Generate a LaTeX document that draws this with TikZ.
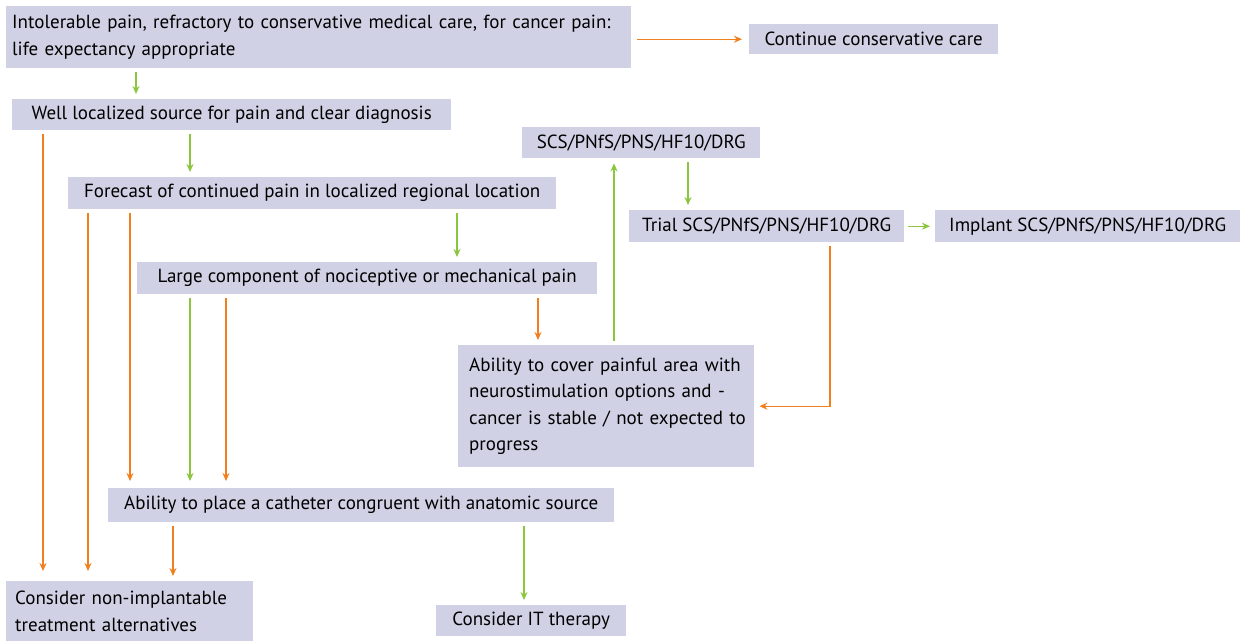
\documentclass[tikz,border=0pt]{standalone}
\usepackage{fontspec}
\setmainfont{PT Sans}
\usepackage{xcolor}
\usetikzlibrary{arrows.meta,positioning,calc}
\definecolor{boxfill}{HTML}{D0D1E4}
\definecolor{arrorange}{HTML}{F07F1E}
\definecolor{arrgreen}{HTML}{8CC63E}

\begin{document}
\begin{tikzpicture}[x=1pt, y=-1pt,
    box/.style={rectangle, fill=boxfill, anchor=north west, inner sep=0pt, font=\fontsize{19}{26.5}\selectfont},
    garr/.style={draw=arrgreen, line width=1.4pt, -{Stealth[length=8pt,width=7pt]}, shorten <=4pt, shorten >=5pt},
    oarr/.style={draw=arrorange, line width=1.4pt, -{Stealth[length=8pt,width=7pt]}, shorten <=4pt, shorten >=5pt}]
    \useasboundingbox (0,0) rectangle (1243,641);
    \node[box, minimum height=62pt, text width=613pt, inner xsep=6pt, align=left] (intro) at (6,6) {Intolerable pain, refractory to conservative medical care, for cancer pain:\\life expectancy appropriate};
    \node[box, minimum width=249pt, minimum height=30pt] (cont) at (749,24) {Continue conservative care};
    \node[box, minimum width=439pt, minimum height=31pt] (well) at (12,99) {Well localized source for pain and clear diagnosis};
    \node[box, minimum width=238pt, minimum height=31pt] (scs) at (522,127) {SCS/PNfS/PNS/HF10/DRG};
    \node[box, minimum width=488pt, minimum height=32pt] (forecast) at (68,177) {Forecast of continued pain in localized regional location};
    \node[box, minimum width=275pt, minimum height=32pt] (trial) at (629,210) {Trial SCS/PNfS/PNS/HF10/DRG};
    \node[box, minimum width=305pt, minimum height=32pt] (implant) at (935,210) {Implant SCS/PNfS/PNS/HF10/DRG};
    \node[box, minimum width=460pt, minimum height=32pt] (large) at (137,262) {Large component of nociceptive or mechanical pain};
    \node[box, minimum height=122pt, text width=280pt, inner xsep=8pt, align=left] (cover) at (458,345) {\hspace*{3pt}Ability to cover painful area with\\\hspace*{3pt}neurostimulation options and -\\\hspace*{3pt}cancer is stable / not expected to\\\hspace*{3pt}progress};
    \node[box, minimum width=506pt, minimum height=34pt] (catheter) at (108,488) {Ability to place a catheter congruent with anatomic source};
    \node[box, minimum height=60pt, text width=229pt, inner xsep=9pt, align=left] (nonimp) at (6,581) {Consider non-implantable\\treatment alternatives};
    \node[box, minimum width=190pt, minimum height=31pt] (itther) at (436,605) {Consider IT therapy};

    \draw[oarr, shorten <=6pt, shorten >=7pt] (intro.east |- cont.west) -- (cont.west);
    \draw[garr] ([xshift=130pt]intro.south west) -- ([xshift=124pt]well.north west);
    \draw[garr] ([xshift=178pt]well.south west) -- ([xshift=122pt]forecast.north west);
    \draw[oarr, shorten >=10pt] ([xshift=31pt]well.south west) -- ([xshift=37pt]nonimp.north west);
    \draw[oarr, shorten >=10pt] ([xshift=20pt]forecast.south west) -- ([xshift=82pt]nonimp.north west);
    \draw[oarr, shorten >=7pt] ([xshift=62pt]forecast.south west) -- ([xshift=22pt]catheter.north west);
    \draw[garr] ([xshift=389pt]forecast.south west) -- ([xshift=320pt]large.north west);
    \draw[garr, shorten >=7pt] ([xshift=53pt]large.south west) -- ([xshift=82pt]catheter.north west);
    \draw[oarr, shorten >=7pt] ([xshift=89pt]large.south west) -- ([xshift=118pt]catheter.north west);
    \draw[oarr] ([xshift=401pt]large.south west) -- ([xshift=80pt]cover.north west);
    \draw[garr] ([xshift=156pt]cover.north west) -- ([xshift=92pt]scs.south west);
    \draw[garr] ([xshift=166pt]scs.south west) -- ([xshift=59pt]trial.north west);
    \draw[garr] (trial.east) -- (implant.west);
    \draw[oarr] ([xshift=201pt]trial.south west) |- (cover.east);
    \draw[oarr] ([xshift=65pt]catheter.south west) -- ([xshift=167pt]nonimp.north west);
    \draw[garr] ([xshift=416pt]catheter.south west) -- ([xshift=88pt]itther.north west);
\end{tikzpicture}
\end{document}
